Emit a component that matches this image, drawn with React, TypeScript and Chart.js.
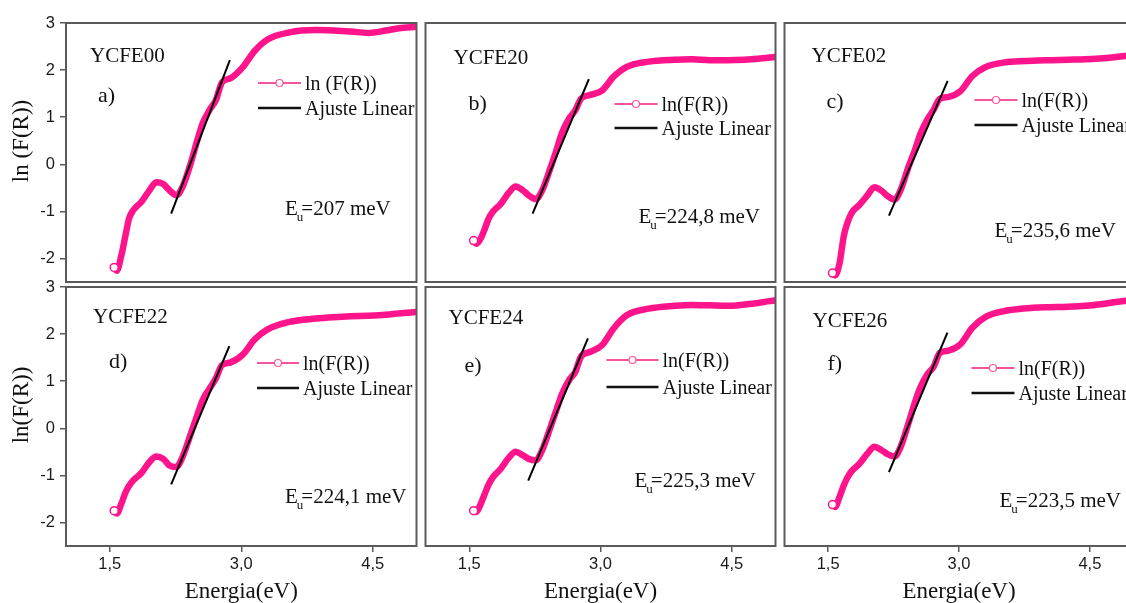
import React, { useEffect, useRef } from 'react';
import { Chart, registerables } from 'chart.js';

Chart.register(...registerables);

// ---------- data ----------
const ENERGY = [1.55, 1.58, 1.63, 1.68, 1.72, 1.77, 1.86, 1.95, 2.03, 2.11, 2.18, 2.26, 2.33, 2.42, 2.5, 2.56, 2.64, 2.71, 2.78, 2.88, 3.02, 3.15, 3.3, 3.55, 3.85, 4.05, 4.25, 4.45, 4.65, 4.8, 5.0];

const LN_YCFE00 = [-2.19, -2.26, -1.95, -1.5, -1.15, -0.97, -0.8, -0.56, -0.38, -0.42, -0.55, -0.66, -0.48, 0.0, 0.52, 0.87, 1.16, 1.36, 1.74, 1.83, 2.07, 2.4, 2.65, 2.8, 2.85, 2.84, 2.82, 2.79, 2.84, 2.89, 2.92];
const LN_YCFE20 = [-1.62, -1.69, -1.58, -1.36, -1.16, -1.01, -0.84, -0.61, -0.47, -0.55, -0.66, -0.74, -0.57, -0.12, 0.32, 0.67, 0.97, 1.14, 1.4, 1.47, 1.57, 1.86, 2.07, 2.18, 2.22, 2.23, 2.21, 2.21, 2.22, 2.24, 2.28];
const LN_YCFE02 = [-2.31, -2.36, -2.11, -1.52, -1.25, -1.03, -0.86, -0.66, -0.49, -0.56, -0.67, -0.75, -0.55, -0.06, 0.33, 0.66, 0.96, 1.16, 1.39, 1.43, 1.56, 1.87, 2.06, 2.17, 2.2, 2.21, 2.22, 2.23, 2.25, 2.28, 2.32];
const LN_YCFE22 = [-1.75, -1.81, -1.61, -1.36, -1.22, -1.1, -0.95, -0.72, -0.6, -0.65, -0.79, -0.82, -0.61, -0.14, 0.29, 0.6, 0.85, 1.06, 1.34, 1.4, 1.57, 1.88, 2.1, 2.26, 2.33, 2.36, 2.38, 2.39, 2.41, 2.44, 2.47];
const LN_YCFE24 = [-1.75, -1.78, -1.61, -1.38, -1.2, -1.04, -0.86, -0.63, -0.5, -0.57, -0.65, -0.68, -0.48, -0.02, 0.41, 0.73, 1.02, 1.19, 1.53, 1.62, 1.77, 2.12, 2.4, 2.54, 2.6, 2.62, 2.61, 2.6, 2.63, 2.66, 2.72];
const LN_YCFE26 = [-1.62, -1.67, -1.46, -1.21, -1.05, -0.91, -0.75, -0.54, -0.39, -0.46, -0.55, -0.6, -0.4, 0.1, 0.58, 0.88, 1.15, 1.31, 1.6, 1.65, 1.79, 2.13, 2.36, 2.5, 2.56, 2.57, 2.58, 2.6, 2.64, 2.68, 2.73];

const FIT_X_YCFE00 = [2.2, 2.87];
const FIT_Y_YCFE00 = [-1.05, 2.21];
const FIT_X_YCFE20 = [2.224, 2.867];
const FIT_Y_YCFE20 = [-1.05, 1.81];
const FIT_X_YCFE02 = [2.197, 2.87];
const FIT_Y_YCFE02 = [-1.09, 1.77];
const FIT_X_YCFE22 = [2.2, 2.864];
const FIT_Y_YCFE22 = [-1.19, 1.745];
const FIT_X_YCFE24 = [2.174, 2.856];
const FIT_Y_YCFE24 = [-1.11, 1.91];
const FIT_X_YCFE26 = [2.197, 2.867];
const FIT_Y_YCFE26 = [-0.93, 2.03];

const SAMPLES = ['YCFE00', 'YCFE20', 'YCFE02', 'YCFE22', 'YCFE24', 'YCFE26'];
const LETTERS = ['a)', 'b)', 'c)', 'd)', 'e)', 'f)'];
const EU_MEV = ['207', '224,8', '235,6', '224,1', '225,3', '223,5'];
const LEGEND_CURVE = ['ln (F(R))', 'ln(F(R))', 'ln(F(R))', 'ln(F(R))', 'ln(F(R))', 'ln(F(R))'];
const LEGEND_FIT = 'Ajuste Linear';
const Y_TITLES = ['ln (F(R))', 'ln(F(R))'];
const X_TITLE = 'Energia(eV)';

const X_TICKS = [1.5, 3.0, 4.5];
const X_TICK_LABELS = ['1,5', '3,0', '4,5'];
const Y_TICKS = [-2, -1, 0, 1, 2, 3];
const Y_TICK_LABELS = ['-2', '-1', '0', '1', '2', '3'];
const X_MIN = 1.0, X_MAX = 5.0, Y_MIN = -2.5, Y_MAX = 3.0;

const SERIES = [LN_YCFE00, LN_YCFE20, LN_YCFE02, LN_YCFE22, LN_YCFE24, LN_YCFE26];
const FIT_X = [FIT_X_YCFE00, FIT_X_YCFE20, FIT_X_YCFE02, FIT_X_YCFE22, FIT_X_YCFE24, FIT_X_YCFE26];
const FIT_Y = [FIT_Y_YCFE00, FIT_Y_YCFE20, FIT_Y_YCFE02, FIT_Y_YCFE22, FIT_Y_YCFE24, FIT_Y_YCFE26];

// ---------- layout / style ----------
const PINK = '#FF148C';
const PINK_LEG = '#F5559F';
const FRAME = '#5a5a5a';
const SERIF = '"Liberation Serif", "Times New Roman", serif';
const SANS = '"Liberation Sans", Arial, sans-serif';

const COL_LEFT = [66, 424, 783];
const COL_W = [352, 353, 352];
const ROW_TOP = [23, 287];
const PLOT_H = 259;
const PAD_T = 16;
const PAD_B = 16;
const PAD_R = 4;
const PAD_L = 4;
const Y_AXIS_W = 66;
const X_AXIS_H = 57;

// text positions relative to plot area (left, top)
const TEXT_POS = [
  { name: [24, 39], letter: [32, 79], leg: [192, 60, 239], fitY: 85, eu: [219, 192] },
  { name: [28, 41], letter: [43, 87], leg: [189, 81, 236], fitY: 105, eu: [213, 200] },
  { name: [27, 39], letter: [42, 85], leg: [190, 77, 237], fitY: 102, eu: [210, 214] },
  { name: [27, 36], letter: [43, 81], leg: [191, 76, 237], fitY: 101, eu: [219, 216] },
  { name: [23, 37], letter: [39, 85], leg: [181, 73, 237], fitY: 100, eu: [209, 200] },
  { name: [28, 40], letter: [43, 83], leg: [187, 81, 234], fitY: 106, eu: [215, 220] },
];

function panelBox(i: number) {
  const col = i % 3;
  const row = Math.floor(i / 3);
  const showY = col === 0;
  const showX = row === 1;
  const left = showY ? 0 : COL_LEFT[col] - PAD_L;
  const top = ROW_TOP[row] - PAD_T;
  const width = (showY ? Y_AXIS_W : PAD_L) + COL_W[col] + PAD_R;
  const height = PAD_T + PLOT_H + (showX ? X_AXIS_H : PAD_B);
  return { col, row, showX, showY, left, top, width, height };
}

function makeConfig(i: number): any {
  const { row, showX, showY } = panelBox(i);
  const pos = TEXT_POS[i];

  const framePlugin = {
    id: 'frame' + i,
    afterDraw(chart: any) {
      const { ctx, chartArea: a } = chart;
      ctx.save();
      ctx.strokeStyle = FRAME;
      ctx.lineWidth = 2;
      ctx.strokeRect(a.left, a.top, a.right - a.left, a.bottom - a.top);
      ctx.restore();
    },
  };

  const textPlugin = {
    id: 'texts' + i,
    afterDraw(chart: any) {
      const { ctx, chartArea: a } = chart;
      const L = a.left, T = a.top;
      ctx.save();
      ctx.fillStyle = '#111';
      ctx.textAlign = 'left';
      ctx.textBaseline = 'alphabetic';
      // sample name
      ctx.font = `21px ${SERIF}`;
      ctx.fillText(SAMPLES[i], L + pos.name[0], T + pos.name[1]);
      // panel letter
      ctx.font = `22px ${SERIF}`;
      ctx.fillText(LETTERS[i], L + pos.letter[0], T + pos.letter[1]);
      // legend
      const lx0 = L + pos.leg[0];
      const tx = L + pos.leg[2];
      const lx1 = tx - 4;
      const ly = T + pos.leg[1];
      ctx.strokeStyle = PINK_LEG;
      ctx.lineWidth = 2;
      ctx.beginPath();
      ctx.moveTo(lx0, ly);
      ctx.lineTo(lx1, ly);
      ctx.stroke();
      ctx.beginPath();
      ctx.arc((lx0 + lx1) / 2, ly, 3.5, 0, Math.PI * 2);
      ctx.fillStyle = '#fff';
      ctx.fill();
      ctx.lineWidth = 1.2;
      ctx.stroke();
      const fy = T + pos.fitY;
      ctx.strokeStyle = '#111';
      ctx.lineWidth = 2.5;
      ctx.beginPath();
      ctx.moveTo(lx0, fy);
      ctx.lineTo(lx1, fy);
      ctx.stroke();
      ctx.fillStyle = '#111';
      ctx.font = `20px ${SERIF}`;
      ctx.fillText(LEGEND_CURVE[i], tx, ly + 6.5);
      ctx.fillText(LEGEND_FIT, tx, fy + 6.5);
      // E_u annotation
      const ex = L + pos.eu[0];
      const ey = T + pos.eu[1];
      ctx.font = `21px ${SERIF}`;
      ctx.fillText('E', ex, ey);
      const wE = ctx.measureText('E').width;
      ctx.font = `13px ${SERIF}`;
      ctx.fillText('u', ex + wE - 1, ey + 6);
      const wu = ctx.measureText('u').width;
      ctx.font = `21px ${SERIF}`;
      ctx.fillText('=' + EU_MEV[i] + ' meV', ex + wE + wu - 3, ey);
      // y title
      if (showY) {
        ctx.save();
        ctx.translate(22, T + 118);
        ctx.rotate(-Math.PI / 2);
        ctx.textAlign = 'center';
        ctx.textBaseline = 'middle';
        ctx.font = `23px ${SERIF}`;
        ctx.fillText(Y_TITLES[row], 0, 0);
        ctx.restore();
      }
      ctx.restore();
    },
  };

  return {
    type: 'line',
    data: {
      datasets: [
        {
          label: LEGEND_FIT,
          data: FIT_X[i].map((x, k) => ({ x, y: FIT_Y[i][k] })),
          borderColor: '#000',
          borderWidth: 2,
          pointRadius: 0,
          order: 0,
        },
        {
          label: LEGEND_CURVE[i],
          data: ENERGY.map((x, k) => ({ x, y: SERIES[i][k] })),
          borderColor: PINK,
          borderWidth: 6.5,
          cubicInterpolationMode: 'monotone',
          pointRadius: (c: any) => (c.dataIndex === 0 ? 4 : 0),
          pointBackgroundColor: '#fff',
          pointBorderColor: PINK,
          pointBorderWidth: 1.5,
          order: 1,
        },
      ],
    },
    options: {
      animation: false,
      responsive: false,
      maintainAspectRatio: false,
      events: [],
      layout: {
        padding: { left: showY ? 0 : PAD_L, right: PAD_R, top: PAD_T, bottom: showX ? 0 : PAD_B },
      },
      plugins: { legend: { display: false }, tooltip: { enabled: false }, title: { display: false } },
      scales: {
        x: {
          type: 'linear',
          min: X_MIN,
          max: X_MAX,
          display: showX,
          afterBuildTicks: (s: any) => {
            s.ticks = X_TICKS.map((v) => ({ value: v }));
          },
          afterFit: (s: any) => {
            s.height = showX ? X_AXIS_H : 0;
          },
          ticks: {
            callback: (v: number) => X_TICK_LABELS[X_TICKS.indexOf(v)] ?? '',
            font: { family: SANS, size: 16.5 },
            color: '#1a1a1a',
            padding: 3,
            maxRotation: 0,
            autoSkip: false,
          },
          grid: { drawOnChartArea: false, drawTicks: true, tickLength: 6, color: FRAME, lineWidth: 1.5 },
          border: { display: false },
          title: {
            display: true,
            text: X_TITLE,
            font: { family: SERIF, size: 23, lineHeight: 1 },
            color: '#111',
            padding: 0,
          },
        },
        y: {
          type: 'linear',
          min: Y_MIN,
          max: Y_MAX,
          display: showY,
          afterBuildTicks: (s: any) => {
            s.ticks = Y_TICKS.map((v) => ({ value: v }));
          },
          afterFit: (s: any) => {
            s.width = showY ? Y_AXIS_W : 0;
          },
          ticks: {
            callback: (v: number) => Y_TICK_LABELS[Y_TICKS.indexOf(v)] ?? '',
            font: { family: SANS, size: 16.5 },
            color: '#1a1a1a',
            padding: 5,
            autoSkip: false,
          },
          grid: { drawOnChartArea: false, drawTicks: true, tickLength: 6, color: FRAME, lineWidth: 1.5 },
          border: { display: false },
        },
      },
    },
    plugins: [framePlugin, textPlugin],
  };
}

function Panel({ index }: { index: number }) {
  const ref = useRef<HTMLCanvasElement>(null);
  const box = panelBox(index);
  useEffect(() => {
    if (!ref.current) return;
    const chart = new Chart(ref.current, makeConfig(index));
    return () => chart.destroy();
  }, [index]);
  return (
    <canvas
      ref={ref}
      width={box.width}
      height={box.height}
      style={{ position: 'absolute', left: box.left, top: box.top, width: box.width, height: box.height }}
    />
  );
}

export default function App() {
  return (
    <div
      style={{
        position: 'fixed',
        left: 0,
        top: 0,
        width: 1126,
        height: 603,
        overflow: 'hidden',
        background: '#fff',
      }}
    >
      {[0, 1, 2, 3, 4, 5].map((i) => (
        <Panel key={i} index={i} />
      ))}
    </div>
  );
}
